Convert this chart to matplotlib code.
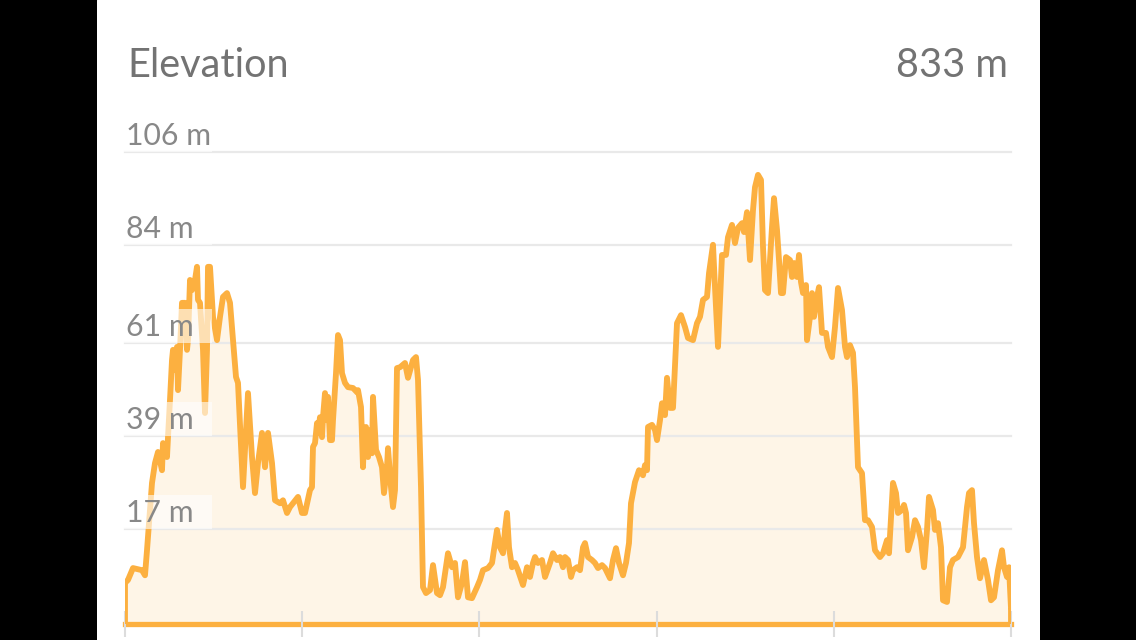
import numpy as np
import matplotlib
matplotlib.use("Agg")
import matplotlib.pyplot as plt
import matplotlib.transforms as mtransforms
from matplotlib.patches import Rectangle

# Elevation profile (distance in km, elevation in m)
distance_km = [
    0.00, 0.03, 0.08, 0.17, 0.20, 0.22, 0.25, 0.27, 0.30, 0.33, 0.37, 0.38, 0.42, 0.43,
    0.45, 0.47, 0.48, 0.50, 0.52, 0.53, 0.55, 0.57, 0.60, 0.62, 0.63, 0.65, 0.67, 0.70,
    0.72, 0.73, 0.75, 0.78, 0.80, 0.82, 0.83, 0.85, 0.88, 0.92, 0.95, 0.98, 1.02, 1.05,
    1.08, 1.11, 1.13, 1.18, 1.23, 1.27, 1.30, 1.33, 1.37, 1.40, 1.43, 1.47, 1.50, 1.55,
    1.58, 1.62, 1.65, 1.68, 1.73, 1.77, 1.80, 1.85,
    1.87, 1.88, 1.90, 1.92, 1.93, 1.95, 1.97, 1.98, 2.00, 2.02, 2.03, 2.05, 2.07, 2.08,
    2.11, 2.13, 2.15, 2.17, 2.20, 2.23, 2.28, 2.32, 2.33, 2.36, 2.38, 2.39, 2.41, 2.43,
    2.46, 2.47, 2.48, 2.51, 2.54, 2.57, 2.59, 2.62, 2.63, 2.66, 2.68, 2.70, 2.72, 2.75,
    2.80, 2.83, 2.86, 2.88, 2.91, 2.93, 2.96, 2.98, 3.01, 3.05, 3.08, 3.12, 3.15, 3.18,
    3.23, 3.27, 3.30, 3.33, 3.37, 3.40, 3.43, 3.47, 3.52, 3.55, 3.58, 3.63, 3.67, 3.70,
    3.72, 3.75, 3.78, 3.80, 3.82, 3.84, 3.87, 3.90, 3.93, 3.98, 4.02, 4.05, 4.08, 4.10,
    4.13, 4.17, 4.20, 4.25, 4.28, 4.32, 4.35, 4.38, 4.40, 4.43, 4.46, 4.48, 4.52, 4.55,
    4.58, 4.60, 4.63, 4.67, 4.70, 4.73, 4.77, 4.80, 4.85, 4.88, 4.91, 4.94, 4.98, 5.01,
    5.04, 5.06, 5.10, 5.14, 5.18, 5.20, 5.22, 5.23, 5.27, 5.30, 5.32, 5.35, 5.37, 5.40,
    5.42, 5.45, 5.48, 5.52, 5.56, 5.60, 5.63, 5.68, 5.72, 5.75, 5.78, 5.82, 5.84, 5.88,
    5.90, 5.93, 5.97, 6.01, 6.03, 6.07, 6.10, 6.13, 6.17, 6.19, 6.22, 6.25, 6.28, 6.30,
    6.33, 6.36, 6.38, 6.40, 6.43, 6.47, 6.49, 6.52, 6.54, 6.56, 6.58, 6.61, 6.65, 6.67,
    6.69, 6.72, 6.74, 6.76, 6.78, 6.81, 6.82, 6.85, 6.87, 6.89, 6.92, 6.94, 6.97, 7.01,
    7.03, 7.07, 7.10, 7.13, 7.17, 7.20, 7.22, 7.25, 7.28, 7.30, 7.33, 7.37, 7.40, 7.43,
    7.47, 7.50, 7.55, 7.58, 7.62, 7.64, 7.68, 7.71, 7.73, 7.77, 7.79, 7.81, 7.83, 7.87,
    7.90, 7.93, 7.96, 7.99, 8.02, 8.04, 8.08, 8.10, 8.13, 8.16, 8.18, 8.22, 8.25, 8.28,
    8.33, 8.38, 8.42, 8.44, 8.47, 8.49, 8.52, 8.55, 8.59, 8.63, 8.66, 8.69, 8.73, 8.77,
    8.79, 8.82, 8.84, 8.86,
]
elevation_m = [
    4.3, 5.0, 7.8, 7.3, 6.1, 12.0, 21.5, 27.9, 32.6, 35.2, 30.9, 37.3, 34.0, 38.7,
    47.5, 56.9, 59.3, 54.5, 60.0, 49.8, 59.3, 70.4, 70.4, 59.3, 61.6, 75.8, 73.4, 75.8,
    78.9, 71.1, 70.4, 59.3, 44.4, 59.3, 78.9, 78.9, 67.1, 61.6, 67.1, 71.8, 72.7, 70.4,
    61.6, 52.9, 51.5, 26.9, 49.1, 34.0, 25.5, 32.6, 39.7, 31.6, 39.7, 32.6, 23.8, 23.1,
    23.8, 20.8, 22.2, 23.1, 24.6, 20.8, 20.8, 26.2,
    26.9, 36.4, 37.3, 42.0, 39.7, 43.4, 38.7, 43.4, 49.1, 42.7, 48.2, 38.0, 38.0, 42.7,
    53.8, 62.8, 61.6, 53.8, 51.5, 50.5, 50.3, 49.3, 49.8, 45.8, 31.6, 38.7, 41.1, 34.0,
    40.4, 34.9, 48.2, 35.7, 34.0, 31.6, 25.5, 31.6, 36.1, 26.9, 22.2, 26.2, 55.0, 55.2,
    56.2, 52.7, 55.2, 56.9, 57.6, 52.2, 26.9, 3.3, 1.9, 2.6, 8.5, 1.9, 1.4, 3.3,
    11.3, 8.0, 9.0, 0.9, 4.3, 9.2, 0.9, 0.7, 3.3, 5.0, 7.3, 7.8, 9.0, 13.7,
    16.8, 12.7, 11.3, 16.8, 20.8, 12.7, 8.0, 9.0, 7.3, 3.8, 8.0, 5.7, 9.0, 10.4,
    9.0, 9.7, 5.7, 9.0, 11.3, 9.7, 10.4, 8.0, 10.4, 9.7, 5.7, 7.3, 8.0, 7.3,
    12.7, 13.7, 10.4, 9.7, 9.0, 7.8, 8.5, 7.8, 5.4, 9.7, 12.5, 9.0, 6.1, 9.0,
    13.7, 23.1, 28.1, 30.9, 29.7, 32.1, 30.9, 41.1, 41.6, 40.4, 38.0, 42.7, 46.7, 43.9,
    52.7, 45.6, 45.6, 65.6, 67.5, 64.7, 62.1, 61.6, 65.6, 67.1, 71.1, 71.8, 77.4, 84.1,
    74.1, 60.0, 81.7, 81.7, 85.9, 88.8, 84.5, 88.1, 89.2, 87.1, 91.8, 80.5, 92.3, 97.7,
    100.6, 99.4, 83.6, 73.4, 72.7, 88.3, 95.1, 87.6, 80.5, 72.7, 72.7, 81.2, 80.5, 76.5,
    79.8, 76.5, 81.7, 75.3, 72.7, 74.6, 61.6, 67.1, 72.7, 67.1, 71.8, 74.1, 63.3, 63.3,
    60.0, 57.6, 64.7, 73.9, 68.7, 60.0, 57.6, 60.4, 58.6, 50.5, 31.6, 30.2, 19.1, 19.1,
    17.5, 12.0, 10.4, 11.3, 14.4, 11.3, 27.9, 25.5, 20.8, 21.5, 22.7, 20.8, 12.0, 15.1,
    19.1, 17.5, 14.4, 8.0, 16.8, 24.6, 21.5, 16.8, 18.4, 12.7, 0.2, -0.2, 8.0, 9.7,
    10.4, 12.7, 22.2, 25.5, 26.2, 18.4, 10.4, 5.4, 9.7, 5.0, 0.2, 0.9, 7.3, 12.0,
    8.0, 5.7, 8.0, -1.7,
]

grid_values = [17, 39, 61, 84, 106]
grid_labels = ["17 m", "39 m", "61 m", "84 m", "106 m"]
title = "Elevation"
total_label = "833 m"

line_color = "#FCB040"
fill_color = "#FEF5E7"
y_bottom = -5.4

fig = plt.figure(figsize=(11.36, 6.4), dpi=100)
fig.patch.set_facecolor("black")

# white panel between the black side bars
panel = fig.add_axes([97 / 1136, 0, 943 / 1136, 1])
panel.set_facecolor("white")
panel.set_axis_off()
panel.add_patch(Rectangle((0, 0), 1, 1, transform=panel.transAxes, color="white"))

ax = fig.add_axes([125 / 1136, 16 / 640, 886 / 1136, 472 / 640])
ax.set_facecolor("none")
ax.set_xlim(distance_km[0], distance_km[-1])
ax.set_ylim(y_bottom, 106)

# grid lines (above fill, below line)
for v in grid_values:
    ax.axhline(v, color="#E9E9E9", lw=1.6, zorder=1.5, clip_on=False)

ax.fill_between(distance_km, elevation_m, y_bottom, color=fill_color, lw=0, zorder=1)
ax.plot(distance_km, elevation_m, color=line_color, lw=4.2, solid_joinstyle="round",
        solid_capstyle="round", zorder=3)
ax.vlines([distance_km[0], distance_km[-1]], y_bottom, [elevation_m[0], elevation_m[-1]],
          color=line_color, lw=4.2, zorder=3)
ax.axhline(y_bottom, color=line_color, lw=3.8, zorder=2, clip_on=False)

for s in ax.spines.values():
    s.set_visible(False)
ax.set_yticks([])
ax.set_xticks(np.linspace(distance_km[0], distance_km[-1], 6))
ax.set_xticklabels([])
ax.tick_params(axis="x", direction="inout", length=19, width=1.5, color="#DCDCDC")
ax.set_axisbelow(False)

# y labels with semi-transparent boxes
blend = mtransforms.blended_transform_factory(ax.transAxes, ax.transData)
for v, lab in zip(grid_values, grid_labels):
    ax.add_patch(Rectangle((-0.002, v), 0.1, 8.0, transform=blend, facecolor="white",
                           alpha=0.6, edgecolor="none", zorder=4, clip_on=False))
    ax.annotate(lab, xy=(0.0, v), xycoords=blend, xytext=(1, 7), textcoords="offset pixels",
                ha="left", va="baseline", fontsize=21.7, color="#888888", family="Lato",
                zorder=5, annotation_clip=False)

fig.text(127 / 1136, 1 - 77 / 640, title, ha="left", va="baseline", fontsize=28.6,
         color="#737373", family="Lato")
fig.text(1008 / 1136, 1 - 77 / 640, total_label, ha="right", va="baseline", fontsize=28.6,
         color="#737373", family="Lato")

fig.savefig("out.png", dpi=100, facecolor=fig.get_facecolor())
